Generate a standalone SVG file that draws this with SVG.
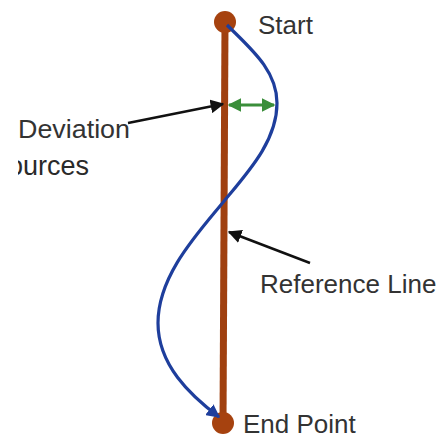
<svg xmlns="http://www.w3.org/2000/svg" width="439" height="439" viewBox="0 0 439 439">
<style>
.lbl{font-family:"Liberation Sans",Arial,sans-serif;font-size:26px;fill:#333}
.ref{stroke:#A0400F;stroke-width:7;fill:none}
.dot{fill:#A6420F}
</style>
<defs>
<marker id="blk" viewBox="0 0 10 10" refX="9" refY="5" markerWidth="5.5" markerHeight="5.5" orient="auto" markerUnits="strokeWidth"><path d="M0,0 L10,5 L0,10 Z" fill="#111"/></marker>
<marker id="blu" viewBox="0 0 10 10" refX="9" refY="5" markerWidth="4.2" markerHeight="4.2" orient="auto" markerUnits="strokeWidth"><path d="M0,0 L10,5 L0,10 Z" fill="#1E3E9C"/></marker>
<marker id="grn" viewBox="0 0 10 10" refX="9" refY="5" markerWidth="4.5" markerHeight="4.5" orient="auto-start-reverse" markerUnits="strokeWidth"><path d="M0,0 L10,5 L0,10 Z" fill="#3A8E3A"/></marker>
<clipPath id="cl"><rect x="18" y="140" width="120" height="50"/></clipPath>
</defs>
<g id="reference-line">
<line class="ref" x1="225" y1="22" x2="223" y2="423"/>
</g>
<g id="start">
<circle class="dot" cx="225" cy="22" r="11"/>
<text class="lbl" x="258" y="34">Start</text>
</g>
<g id="end-point">
<circle class="dot" cx="223" cy="423" r="11"/>
<text class="lbl" x="243" y="433">End Point</text>
</g>
<g id="path">
<path d="M227,25 C250,48 277,70 277,103 C277,140 250,170 225,200 C198,233 158,275 158,323 C158,365 190,395 219,417" fill="none" stroke="#1E3E9C" stroke-width="3.2" marker-end="url(#blu)"/>
</g>
<g id="connectors">
<line x1="229" y1="105" x2="274" y2="105" stroke="#3A8E3A" stroke-width="3" marker-start="url(#grn)" marker-end="url(#grn)"/>
<line x1="128" y1="123" x2="223" y2="104" stroke="#111" stroke-width="2.5" marker-end="url(#blk)"/>
<line x1="310" y1="263" x2="229" y2="232" stroke="#111" stroke-width="2.5" marker-end="url(#blk)"/>
</g>
<g id="labels">
<text class="lbl" x="18" y="138" textLength="112" lengthAdjust="spacingAndGlyphs">Deviation</text>
<text class="lbl" x="8" y="175" style="font-size:27px;fill:#2a2a2a" clip-path="url(#cl)">ources</text>
<text class="lbl" x="260" y="293">Reference Line</text>
</g>
</svg>
